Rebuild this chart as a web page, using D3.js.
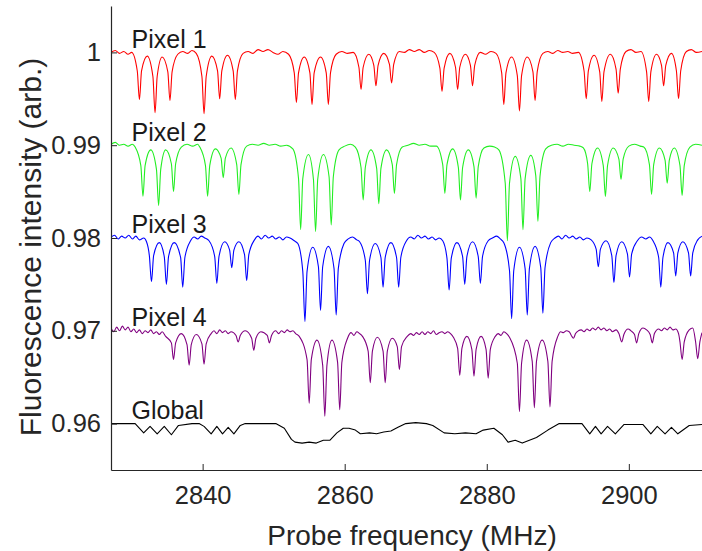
<!DOCTYPE html>
<html>
<head>
<meta charset="utf-8">
<script src="https://cdn.jsdelivr.net/npm/d3@7"></script>
<style>
  html, body { margin: 0; padding: 0; background: #fff; }
  svg { display: block; }
  text { font-family: "Liberation Sans", Arial, Helvetica, sans-serif; }
</style>
</head>
<body>
<svg id="chart" width="702" height="551"></svg>
<script>
// ---------------- DATA ----------------
const xTicks = [2840, 2860, 2880, 2900];
const yTicks = [0.96, 0.97, 0.98, 0.99, 1.00];
const yTickLabels = ["0.96", "0.97", "0.98", "0.99", "1"];
const seriesNames = ["Pixel 1", "Pixel 2", "Pixel 3", "Pixel 4", "Global"];
const seriesBaselines = [1.00, 0.99, 0.98, 0.97, 0.96];
const seriesColors = ["#ff0000", "#22ee22", "#0000ff", "#800080", "#000000"];

const pixel1 = [
[2827.1,1.0000],[2827.7,1.0002],[2828.3,0.9999],[2828.9,1.0001],[2829.5,0.9998],[2830.0,1.0000],
[2830.8,0.9980],[2831.1,0.9949],[2831.4,0.9980],[2832.2,0.9996],[2833.0,0.9974],[2833.3,0.9935],[2833.6,0.9974],[2834.3,0.9995],[2835.1,0.9979],[2835.4,0.9948],[2835.7,0.9979],[2836.5,0.9998],
[2837.2,1.0001],[2837.9,0.9999],[2838.5,1.0002],[2839.1,0.9999],
[2839.9,0.9974],[2840.2,0.9934],[2840.5,0.9974],[2841.3,0.9996],[2842.1,0.9980],[2842.4,0.9950],[2842.7,0.9980],[2843.5,0.9997],[2844.3,0.9980],[2844.6,0.9949],[2844.9,0.9980],[2845.7,0.9999],
[2846.4,1.0001],[2847.1,0.9999],[2847.8,1.0003],[2848.5,1.0001],[2849.2,1.0003],[2849.9,1.0000],[2850.6,0.9998],[2851.3,1.0001],[2852.1,0.9998],
[2852.9,0.9978],[2853.2,0.9946],[2853.5,0.9978],[2854.3,0.9995],[2855.1,0.9978],[2855.4,0.9944],[2855.7,0.9978],[2856.6,0.9995],[2857.4,0.9978],[2857.7,0.9944],[2858.0,0.9978],[2858.8,0.9998],
[2859.6,1.0001],[2860.4,0.9999],[2861.2,1.0000],
[2862.0,0.9984],[2862.3,0.9960],[2862.6,0.9984],[2863.4,0.9998],[2864.1,0.9986],[2864.4,0.9964],[2864.7,0.9986],[2865.5,0.9999],[2866.3,0.9987],[2866.6,0.9967],[2866.9,0.9987],[2867.7,1.0001],
[2868.4,1.0000],[2869.1,1.0003],[2869.8,1.0001],[2870.5,1.0003],[2871.2,1.0000],[2871.9,1.0002],[2872.6,1.0000],
[2873.4,0.9983],[2873.7,0.9958],[2874.0,0.9983],[2874.8,0.9999],[2875.6,0.9984],[2875.9,0.9960],[2876.2,0.9984],[2877.0,0.9998],[2877.7,0.9986],[2878.0,0.9964],[2878.3,0.9986],[2879.1,1.0000],
[2879.8,0.9998],[2880.6,1.0001],[2881.3,0.9999],
[2882.1,0.9978],[2882.4,0.9944],[2882.7,0.9978],[2883.5,0.9995],[2884.3,0.9975],[2884.6,0.9937],[2884.9,0.9975],[2885.7,0.9995],[2886.5,0.9979],[2886.8,0.9948],[2887.1,0.9979],[2887.9,0.9999],
[2888.6,1.0001],[2889.3,0.9999],[2890.0,1.0002],[2890.7,1.0000],[2891.4,1.0001],[2892.1,0.9999],[2892.9,1.0000],
[2893.7,0.9980],[2894.0,0.9950],[2894.3,0.9980],[2895.1,0.9997],[2895.9,0.9979],[2896.2,0.9947],[2896.5,0.9979],[2897.4,0.9998],[2898.2,0.9982],[2898.5,0.9956],[2898.8,0.9982],[2899.6,1.0001],
[2900.3,1.0003],[2901.0,1.0000],[2901.7,1.0001],
[2902.5,0.9979],[2902.8,0.9947],[2903.1,0.9979],[2903.9,0.9998],[2904.6,0.9986],[2904.9,0.9964],[2905.2,0.9986],[2906.0,0.9999],[2906.7,0.9980],[2907.0,0.9950],[2907.3,0.9980],[2908.1,1.0001],
[2908.8,1.0003],[2909.5,1.0000],[2910.3,1.0001]
];

const pixel2 = [
[2827.1,0.9901],[2827.7,0.9903],[2828.3,0.9900],[2828.9,0.9901],[2829.5,0.9899],[2830.1,0.9901],[2830.5,0.9898],
[2831.3,0.9878],[2831.6,0.9845],[2831.9,0.9878],[2832.7,0.9895],[2833.5,0.9874],[2833.8,0.9835],[2834.1,0.9874],[2834.8,0.9895],[2835.6,0.9880],[2835.9,0.9850],[2836.2,0.9880],[2837.0,0.9898],
[2837.8,0.9901],[2838.6,0.9899],[2839.3,0.9901],[2839.6,0.9898],
[2840.4,0.9878],[2840.7,0.9845],[2841.0,0.9878],[2841.8,0.9896],[2842.6,0.9886],[2842.9,0.9865],[2843.2,0.9886],[2844.0,0.9897],[2844.8,0.9879],[2845.1,0.9847],[2845.4,0.9879],[2846.2,0.9899],
[2847.0,0.9901],[2847.8,0.9900],[2848.6,0.9902],[2849.4,0.9900],[2850.2,0.9901],[2851.0,0.9899],[2851.8,0.9900],[2852.7,0.9896],
[2853.5,0.9864],[2853.8,0.9809],[2854.1,0.9864],[2854.9,0.9890],[2855.6,0.9863],[2855.9,0.9807],[2856.2,0.9863],[2857.0,0.9890],[2857.8,0.9866],[2858.1,0.9814],[2858.4,0.9866],[2859.2,0.9895],
[2860.0,0.9899],[2860.8,0.9901],[2861.5,0.9898],
[2862.3,0.9876],[2862.6,0.9841],[2862.9,0.9876],[2863.7,0.9895],[2864.5,0.9875],[2864.8,0.9837],[2865.1,0.9875],[2865.9,0.9895],[2866.7,0.9879],[2867.0,0.9848],[2867.3,0.9879],[2868.1,0.9898],
[2868.9,0.9900],[2869.7,0.9902],[2870.5,0.9900],[2871.3,0.9901],[2872.1,0.9899],[2872.9,0.9899],
[2873.8,0.9879],[2874.1,0.9848],[2874.4,0.9879],[2875.2,0.9896],[2876.0,0.9876],[2876.3,0.9841],[2876.6,0.9876],[2877.4,0.9895],[2878.2,0.9877],[2878.5,0.9843],[2878.8,0.9877],[2879.6,0.9897],
[2880.4,0.9899],[2881.1,0.9898],[2881.7,0.9895],
[2882.6,0.9859],[2882.9,0.9797],[2883.2,0.9859],[2884.0,0.9888],[2884.8,0.9864],[2885.1,0.9809],[2885.4,0.9864],[2886.2,0.9889],[2886.9,0.9867],[2887.2,0.9818],[2887.5,0.9867],[2888.3,0.9896],
[2889.1,0.9900],[2889.9,0.9901],[2890.7,0.9899],[2891.5,0.9901],[2892.3,0.9900],[2893.1,0.9899],[2893.6,0.9897],
[2894.2,0.9880],[2894.5,0.9850],[2894.8,0.9880],[2895.6,0.9897],[2896.4,0.9878],[2896.7,0.9845],[2897.0,0.9878],[2897.8,0.9897],[2898.6,0.9885],[2898.9,0.9863],[2899.2,0.9885],[2900.0,0.9899],
[2900.8,0.9901],[2901.6,0.9899],[2902.1,0.9898],
[2902.9,0.9879],[2903.2,0.9847],[2903.5,0.9879],[2904.3,0.9897],[2905.1,0.9884],[2905.4,0.9859],[2905.7,0.9884],[2906.4,0.9897],[2907.2,0.9878],[2907.5,0.9846],[2907.8,0.9878],[2908.6,0.9898],
[2909.4,0.9901],[2910.3,0.9900]
];

const pixel3 = [
[2827.1,0.9801],[2827.6,0.9803],[2828.1,0.9799],[2828.6,0.9802],[2829.1,0.9800],[2829.6,0.9803],[2830.1,0.9799],[2830.6,0.9802],[2831.1,0.9798],[2831.7,0.9800],[2832.1,0.9796],
[2832.5,0.9781],[2832.8,0.9753],[2833.1,0.9781],[2833.9,0.9795],[2834.6,0.9780],[2834.9,0.9750],[2835.2,0.9780],[2836.0,0.9795],[2836.9,0.9779],[2837.2,0.9747],[2837.5,0.9779],[2838.3,0.9797],
[2838.8,0.9801],[2839.3,0.9799],[2839.8,0.9802],[2840.3,0.9800],[2840.9,0.9797],
[2841.7,0.9780],[2842.0,0.9751],[2842.3,0.9780],[2843.1,0.9796],[2843.8,0.9787],[2844.1,0.9768],[2844.4,0.9787],[2845.1,0.9796],[2845.9,0.9782],[2846.2,0.9754],[2846.5,0.9782],[2847.3,0.9798],
[2847.8,0.9802],[2848.3,0.9799],[2848.8,0.9803],[2849.3,0.9800],[2849.8,0.9802],[2850.3,0.9799],[2850.8,0.9801],[2851.3,0.9798],[2851.8,0.9801],[2852.3,0.9800],[2852.9,0.9797],[2853.4,0.9794],
[2854.1,0.9764],[2854.4,0.9710],[2854.7,0.9764],[2855.5,0.9790],[2856.3,0.9769],[2856.6,0.9722],[2856.9,0.9769],[2857.7,0.9791],[2858.5,0.9767],[2858.8,0.9717],[2859.1,0.9767],[2859.9,0.9794],
[2860.5,0.9799],[2861.1,0.9801],[2861.7,0.9798],[2862.1,0.9796],
[2862.9,0.9776],[2863.2,0.9740],[2863.5,0.9776],[2864.3,0.9794],[2865.1,0.9779],[2865.4,0.9747],[2865.7,0.9779],[2866.5,0.9795],[2867.3,0.9779],[2867.6,0.9747],[2867.9,0.9779],[2868.7,0.9797],
[2869.3,0.9801],[2869.8,0.9799],[2870.3,0.9803],[2870.8,0.9800],[2871.3,0.9802],[2871.8,0.9799],[2872.3,0.9801],[2872.8,0.9798],[2873.3,0.9800],[2873.8,0.9797],
[2874.4,0.9778],[2874.7,0.9744],[2875.0,0.9778],[2875.8,0.9795],[2876.6,0.9780],[2876.9,0.9750],[2877.2,0.9780],[2878.0,0.9796],[2878.8,0.9780],[2879.1,0.9751],[2879.4,0.9780],[2880.2,0.9797],
[2880.8,0.9800],[2881.4,0.9802],[2881.9,0.9799],[2882.4,0.9795],
[2883.2,0.9765],[2883.5,0.9713],[2883.8,0.9765],[2884.6,0.9790],[2885.4,0.9767],[2885.7,0.9717],[2886.0,0.9767],[2886.8,0.9791],[2887.6,0.9768],[2887.9,0.9719],[2888.2,0.9768],[2889.0,0.9795],
[2889.6,0.9800],[2890.1,0.9802],[2890.6,0.9799],[2891.1,0.9803],[2891.6,0.9800],[2892.1,0.9802],[2892.6,0.9799],[2893.1,0.9801],[2893.6,0.9798],[2894.1,0.9800],[2894.7,0.9798],
[2895.4,0.9788],[2895.7,0.9769],[2896.0,0.9788],[2896.8,0.9797],[2897.6,0.9781],[2897.9,0.9752],[2898.2,0.9781],[2899.0,0.9796],[2899.8,0.9783],[2900.1,0.9758],[2900.4,0.9783],[2901.2,0.9797],
[2901.8,0.9801],[2902.4,0.9799],[2902.9,0.9801],[2903.4,0.9797],
[2904.2,0.9779],[2904.5,0.9747],[2904.8,0.9779],[2905.5,0.9795],[2906.3,0.9784],[2906.6,0.9759],[2906.9,0.9784],[2907.6,0.9796],[2908.4,0.9784],[2908.7,0.9759],[2909.0,0.9784],[2909.7,0.9798],[2910.3,0.9802]
];

const pixel4 = [
[2827.1,0.9703],[2827.5,0.9699],[2827.9,0.9704],[2828.3,0.9700],[2828.7,0.9705],[2829.1,0.9701],[2829.5,0.9704],[2829.9,0.9699],[2830.3,0.9702],[2830.7,0.9698],[2831.1,0.9701],[2831.5,0.9697],[2831.9,0.9700],[2832.3,0.9698],[2832.7,0.9701],[2833.1,0.9697],[2833.5,0.9699],[2833.9,0.9696],[2834.3,0.9699],[2834.8,0.9694],
[2835.6,0.9687],[2835.9,0.9669],[2836.2,0.9687],[2837.0,0.9697],[2837.8,0.9685],[2838.1,0.9663],[2838.4,0.9685],[2839.1,0.9696],[2839.9,0.9686],[2840.2,0.9664],[2840.5,0.9686],[2841.2,0.9697],
[2841.6,0.9700],[2842.0,0.9697],[2842.4,0.9701],[2842.8,0.9698],[2843.2,0.9700],[2843.6,0.9697],[2844.0,0.9699],
[2844.7,0.9695],[2845.0,0.9688],[2845.3,0.9695],[2846.0,0.9700],[2846.9,0.9692],[2847.2,0.9679],[2847.5,0.9692],[2848.2,0.9699],[2849.1,0.9695],[2849.4,0.9687],[2849.7,0.9695],[2850.3,0.9700],
[2850.7,0.9697],[2851.1,0.9700],[2851.5,0.9698],[2851.9,0.9701],[2852.3,0.9699],[2852.7,0.9700],[2853.1,0.9697],[2853.6,0.9694],
[2854.7,0.9669],[2855.0,0.9622],[2855.3,0.9669],[2856.1,0.9690],[2856.9,0.9663],[2857.2,0.9608],[2857.5,0.9663],[2858.2,0.9690],[2859.0,0.9666],[2859.3,0.9615],[2859.6,0.9666],[2860.4,0.9692],
[2860.9,0.9698],[2861.3,0.9695],[2861.7,0.9699],[2862.1,0.9697],[2862.5,0.9694],
[2863.3,0.9678],[2863.6,0.9644],[2863.9,0.9678],[2864.6,0.9693],[2865.4,0.9678],[2865.7,0.9644],[2866.0,0.9678],[2866.7,0.9692],[2867.4,0.9683],[2867.7,0.9658],[2868.0,0.9683],[2868.8,0.9694],
[2869.3,0.9697],[2869.7,0.9695],[2870.1,0.9698],[2870.5,0.9696],[2870.9,0.9699],[2871.3,0.9696],[2871.7,0.9699],[2872.1,0.9697],[2872.5,0.9700],[2872.9,0.9696],[2873.3,0.9698],[2873.7,0.9699],[2874.1,0.9697],[2874.5,0.9699],[2874.9,0.9697],[2875.3,0.9693],
[2875.9,0.9681],[2876.2,0.9652],[2876.5,0.9681],[2877.2,0.9694],[2877.9,0.9680],[2878.2,0.9651],[2878.5,0.9680],[2879.2,0.9694],[2879.9,0.9680],[2880.2,0.9649],[2880.5,0.9680],[2881.2,0.9694],
[2881.6,0.9697],[2882.0,0.9695],[2882.4,0.9699],[2882.8,0.9697],[2883.2,0.9693],
[2884.3,0.9665],[2884.6,0.9613],[2884.9,0.9665],[2885.6,0.9690],[2886.4,0.9667],[2886.7,0.9617],[2887.0,0.9667],[2887.8,0.9690],[2888.6,0.9667],[2888.9,0.9618],[2889.2,0.9667],[2890.0,0.9694],
[2890.4,0.9699],[2890.8,0.9698],[2891.2,0.9700],[2891.6,0.9699],[2891.9,0.9695],[2892.2,0.9692],[2892.5,0.9697],[2892.9,0.9700],[2893.3,0.9701],[2893.7,0.9699],[2894.1,0.9702],[2894.5,0.9700],[2894.9,0.9703],[2895.3,0.9701],[2895.7,0.9704],[2896.1,0.9701],[2896.5,0.9703],[2896.9,0.9700],[2897.3,0.9702],[2897.7,0.9699],[2898.2,0.9701],[2898.6,0.9697],
[2899.0,0.9688],[2899.3,0.9696],[2899.9,0.9702],[2900.3,0.9700],[2900.8,0.9696],[2901.1,0.9687],[2901.4,0.9697],[2902.0,0.9703],[2902.5,0.9701],[2903.0,0.9696],[2903.3,0.9687],[2903.6,0.9697],[2904.2,0.9702],
[2904.6,0.9700],[2905.0,0.9703],[2905.4,0.9701],[2905.8,0.9704],[2906.2,0.9701],[2906.6,0.9702],[2907.0,0.9697],
[2907.2,0.9688],[2907.5,0.9669],[2907.8,0.9688],[2908.5,0.9701],[2909.0,0.9703],[2909.4,0.9688],[2909.7,0.9670],[2910.0,0.9688],[2910.3,0.9698]
];

const globalAvg = [
[2827.1,0.9600],[2830.5,0.9600],[2831.7,0.9590],[2832.6,0.9597],[2833.6,0.9589],[2834.6,0.9597],[2835.6,0.9588],[2836.6,0.9598],[2838.5,0.9600],[2839.5,0.9600],
[2840.2,0.9597],[2841.2,0.9589],[2842.0,0.9597],[2842.8,0.9589],[2843.6,0.9596],[2844.4,0.9589],[2845.3,0.9598],[2846.0,0.9600],[2850.3,0.9600],
[2851.5,0.9595],[2852.5,0.9583],[2853.0,0.9580],[2854.0,0.9579],[2855.0,0.9580],[2856.0,0.9579],[2857.0,0.9582],[2857.9,0.9582],[2858.9,0.9590],[2859.8,0.9595],[2860.6,0.9595],
[2861.5,0.9593],[2862.2,0.9589],[2863.5,0.9590],[2864.5,0.9589],[2865.5,0.9591],[2866.5,0.9592],[2867.5,0.9596],[2868.6,0.9600],[2870.0,0.9601],[2871.5,0.9600],[2872.4,0.9598],
[2874.0,0.9590],[2875.5,0.9589],[2877.0,0.9590],[2878.5,0.9589],[2879.5,0.9593],[2881.0,0.9595],[2882.2,0.9588],[2883.0,0.9580],[2884.0,0.9582],[2885.0,0.9579],[2886.0,0.9582],[2887.0,0.9585],[2888.6,0.9593],[2890.2,0.9600],[2893.4,0.9600],
[2894.5,0.9589],[2895.3,0.9597],[2896.1,0.9589],[2897.0,0.9597],[2898.1,0.9589],[2899.3,0.9599],[2902.0,0.9599],
[2903.1,0.9589],[2904.0,0.9597],[2905.1,0.9589],[2906.0,0.9596],[2906.9,0.9589],[2908.5,0.9598],[2910.3,0.9599]
];

const seriesData = [pixel1, pixel2, pixel3, pixel4, globalAvg];

// ---------------- CHART ----------------
const W = 702, H = 551;
const m = { left: 111, right: 0, top: 6, bottom: 81 };
const svg = d3.select("#chart");
const x = d3.scaleLinear().domain([2827.1, 2910.3]).range([m.left, W - m.right]);
const y = d3.scaleLinear().domain([0.955, 1.005]).range([H - m.bottom, m.top]);

svg.append("defs").append("clipPath").attr("id", "clip")
  .append("rect").attr("x", m.left).attr("y", m.top)
  .attr("width", W - m.right - m.left).attr("height", H - m.bottom - m.top);

const smoothLine = d3.line().x(d => x(d[0])).y(d => y(d[1])).curve(d3.curveMonotoneX);
const sharpLine = d3.line().x(d => x(d[0])).y(d => y(d[1]));
const plot = svg.append("g").attr("clip-path", "url(#clip)");
seriesData.forEach((s, i) => {
  plot.append("path").datum(s)
    .attr("d", i === 4 ? sharpLine : smoothLine)
    .attr("fill", "none")
    .attr("stroke", seriesColors[i])
    .attr("stroke-width", 1.1)
    .attr("stroke-linejoin", "round");
});

// axes
const axisColor = "#262626";
const xAxis = svg.append("g").attr("transform", `translate(0,${H - m.bottom})`)
  .call(d3.axisBottom(x).tickValues(xTicks).tickFormat(d3.format("d"))
    .tickSizeInner(-6).tickSizeOuter(0).tickPadding(16));
const yAxis = svg.append("g").attr("transform", `translate(${m.left},0)`)
  .call(d3.axisLeft(y).tickValues(yTicks).tickFormat((d, i) => yTickLabels[i])
    .tickSizeInner(-6).tickSizeOuter(0).tickPadding(10));
[xAxis, yAxis].forEach(a => {
  a.attr("font-family", null).attr("font-size", null);
  a.select(".domain").attr("stroke", axisColor).attr("stroke-width", 1.2);
  a.selectAll(".tick line").attr("stroke", axisColor).attr("stroke-width", 1);
  a.selectAll(".tick text").attr("fill", axisColor)
    .style("font-family", '"Liberation Sans", Arial, sans-serif')
    .style("font-size", "25.5px");
});

// axis titles
svg.append("text").attr("x", 412).attr("y", 545)
  .attr("text-anchor", "middle").attr("fill", axisColor)
  .style("font-size", "28px").text("Probe frequency (MHz)");
svg.append("text")
  .attr("transform", `translate(41,247) rotate(-90)`)
  .attr("text-anchor", "middle").attr("fill", axisColor)
  .style("font-size", "30px").text("Fluorescence intensity (arb.)");

// series labels
seriesNames.forEach((name, i) => {
  svg.append("text")
    .attr("x", x(2830.0))
    .attr("y", y(seriesBaselines[i] + 0.0005))
    .attr("fill", "#1a1a1a")
    .style("font-size", "25px")
    .text(name);
});
</script>
</body>
</html>
